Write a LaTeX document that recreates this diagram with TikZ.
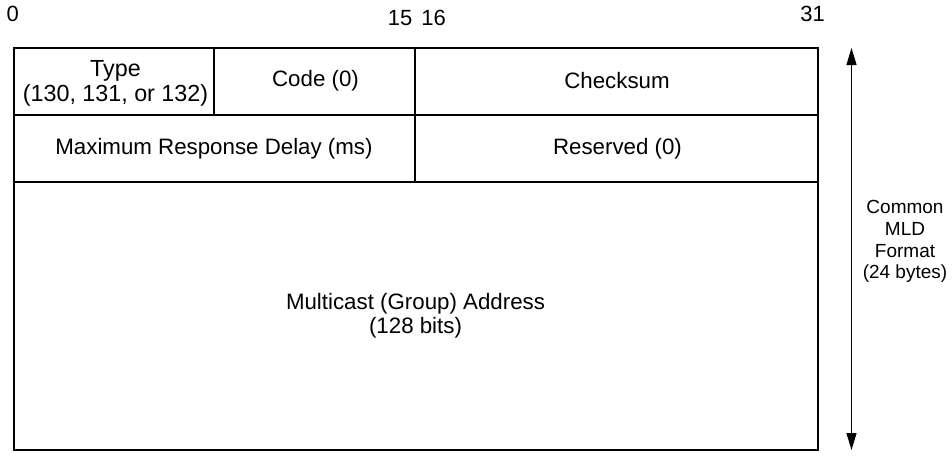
\documentclass[tikz,border=0pt]{standalone}
\usepackage{fontspec}
\setmainfont{Liberation Sans}
\usetikzlibrary{arrows.meta}
\begin{document}
\begin{tikzpicture}[x=1pt,y=-1pt,
  cell/.style={draw=black,line width=1.4pt},
  celltext/.style={align=center,font=\fontsize{22.3}{24}\selectfont,inner sep=0pt},
  typetext/.style={align=center,font=\fontsize{23.3}{25.5}\selectfont,inner sep=0pt},
  bitlabel/.style={font=\fontsize{22}{24}\selectfont,inner sep=0pt},
  sidelabel/.style={align=center,font=\fontsize{19}{21.7}\selectfont,inner sep=0pt}]
\useasboundingbox (0,0) rectangle (952,461);
% cells
\draw[cell] (14,48) rectangle (818,450);
\draw[cell] (14,115) -- (818,115);
\draw[cell] (14,182) -- (818,182);
\draw[cell] (214,48) -- (214,115);
\draw[cell] (415,48) -- (415,182);
% texts
\node[typetext] (type) at (115.5,83.5) {Type\\(130, 131, or 132)};
\node[celltext] (code) at (315.5,81) {Code (0)};
\node[celltext] (chk) at (617,81) {Checksum};
\node[celltext] (mrd) at (214,148.5) {Maximum Response Delay (ms)};
\node[celltext] (res) at (617.5,148.5) {Reserved (0)};
\node[celltext] (mca) at (415.5,316) {Multicast (Group) Address\\(128 bits)};
% bit labels
\node[bitlabel] (b0) at (12.8,14.2) {0};
\node[bitlabel] (b15) at (400,17.7) {15};
\node[bitlabel] (b16) at (433.5,17.7) {16};
\node[bitlabel] (b31) at (812.5,13.8) {31};
% size arrow
\coordinate (atop) at (851.5,48);
\coordinate (abot) at (851.5,450);
\draw[line width=1.2pt,{Triangle[width=10pt,length=17pt]}-{Triangle[width=10pt,length=17pt]}] (atop) -- (abot);
\node[sidelabel,fill=white,inner sep=2pt] (side) at (905,241.5) {Common\\MLD\\Format\\(24 bytes)};
\end{tikzpicture}
\end{document}
